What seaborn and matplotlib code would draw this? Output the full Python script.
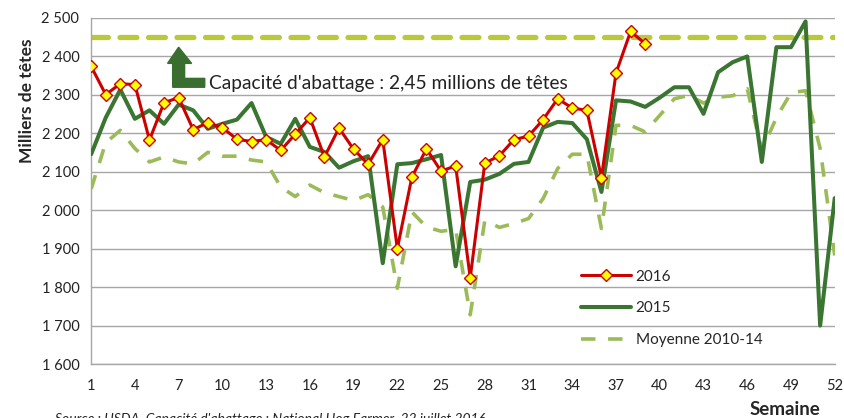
import numpy as np
import pandas as pd
import matplotlib.pyplot as plt
from matplotlib.patches import Polygon
import matplotlib.ticker as mticker
import seaborn as sns

# Données (milliers de têtes par semaine)
weeks = list(range(1, 53))

abattage_2016 = [
    2373, 2300, 2328, 2326, 2182, 2279, 2292, 2209, 2227, 2214,
    2184, 2178, 2183, 2155, 2197, 2240, 2138, 2213, 2158, 2119,
    2183, 1900, 2086, 2159, 2101, 2115, 1824, 2122, 2141, 2183,
    2192, 2235, 2289, 2265, 2259, 2084, 2356, 2464, 2432,
]

abattage_2015 = [
    2145, 2240, 2313, 2237, 2259, 2224, 2274, 2259, 2211, 2224,
    2235, 2278, 2190, 2172, 2237, 2164, 2151, 2110, 2127, 2140,
    1862, 2119, 2122, 2132, 2143, 1854, 2073, 2079, 2094, 2120,
    2125, 2214, 2229, 2226, 2184, 2047, 2285, 2282, 2268, 2292,
    2319, 2319, 2250, 2358, 2384, 2399, 2125, 2423, 2423, 2490,
    1700, 2031,
]

moyenne_2010_14 = [
    2055, 2175, 2207, 2160, 2125, 2138, 2125, 2120, 2150, 2140,
    2140, 2130, 2125, 2060, 2035, 2065, 2045, 2035, 2025, 2040,
    2008, 1797, 1995, 1956, 1945, 1950, 1728, 1973, 1955, 1965,
    1978, 2030, 2108, 2145, 2145, 1952, 2220, 2220, 2203, 2246,
    2289, 2298, 2278, 2293, 2297, 2315, 2155, 2240, 2305, 2310,
    2160, 1882,
]

capacite = 2450

x_ticks = list(range(1, 53, 3))
y_ticks = list(range(1600, 2501, 100))

df16 = pd.DataFrame({"semaine": weeks[:len(abattage_2016)], "valeur": abattage_2016})
df15 = pd.DataFrame({"semaine": weeks, "valeur": abattage_2015})
dfmoy = pd.DataFrame({"semaine": weeks, "valeur": moyenne_2010_14})

sns.set_style("white")
plt.rcParams["font.family"] = ["Lato", "DejaVu Sans"]

fig, ax = plt.subplots(figsize=(8.44, 4.18), dpi=100)
fig.subplots_adjust(left=0.108, right=0.989, top=0.958, bottom=0.129)

# Capacité d'abattage
ax.axhline(capacite, color="#bac83c", lw=3.8, dashes=(3.2, 2.2),
           dash_capstyle="round", zorder=2)

sns.lineplot(data=dfmoy, x="semaine", y="valeur", ax=ax, color="#9bbb59",
             lw=2.6, label="Moyenne 2010-14", zorder=3)
ax.lines[-1].set_dashes((4, 3.5))
sns.lineplot(data=df15, x="semaine", y="valeur", ax=ax, color="#3a7531",
             lw=2.9, label="2015", zorder=4)
sns.lineplot(data=df16, x="semaine", y="valeur", ax=ax, color="#cc0000",
             lw=2.2, marker="D", markersize=6.5, markerfacecolor="#ffff00",
             markeredgecolor="#cc0000", markeredgewidth=1.0,
             label="2016", zorder=5)

ax.set_xlim(1, 52)
ax.set_ylim(1600, 2500)
ax.set_xticks(x_ticks)
ax.set_xticks(weeks, minor=True)
ax.set_yticks(y_ticks)
ax.yaxis.set_major_formatter(
    mticker.FuncFormatter(lambda v, p: f"{int(v):,}".replace(",", " ")))
ax.grid(axis="y", color="#a6a6a6", lw=1.0)
ax.set_axisbelow(True)

for side in ["top", "right"]:
    ax.spines[side].set_visible(False)
for side in ["left", "bottom"]:
    ax.spines[side].set_color("#a6a6a6")
    ax.spines[side].set_linewidth(1.0)

ax.tick_params(axis="both", which="both", color="#a6a6a6", labelsize=10.5,
               labelcolor="#222222")
ax.tick_params(axis="y", length=5, width=1)
ax.tick_params(axis="x", which="major", length=4, width=1, pad=7)
ax.tick_params(axis="x", which="minor", length=4, width=1)

ax.set_ylabel("Milliers de têtes", fontsize=12.5, fontweight="bold")
ax.yaxis.set_label_coords(-0.076, 0.76)
ax.set_xlabel("")
fig.text(0.93, 0.0, "Semaine", fontsize=13.5, fontweight="bold",
         ha="center", va="bottom")

# Flèche et texte de la capacité
arrow = Polygon([(7.0, 2423), (7.89, 2381), (7.41, 2381), (7.41, 2342),
                 (8.79, 2342), (8.79, 2319), (6.59, 2319), (6.59, 2381),
                 (6.24, 2381)], closed=True, color="#3a6e2e", zorder=6)
ax.add_patch(arrow)
ax.text(9.1, 2330, "Capacité d'abattage : 2,45 millions de têtes",
        fontsize=13.8, color="#222222", va="center", ha="left", zorder=6)

# Légende
handles, labels = ax.get_legend_handles_labels()
order = [labels.index(l) for l in ["2016", "2015", "Moyenne 2010-14"]]
ax.legend([handles[i] for i in order], [labels[i] for i in order],
          loc="lower left", bbox_to_anchor=(0.64, 0.01), frameon=False,
          fontsize=11, handlelength=3.3, labelspacing=1.15, handletextpad=0.3)

fig.text(0.065, -0.012,
         "Source : USDA, Capacité d'abattage : National Hog Farmer, 22 juillet 2016",
         fontsize=10, style="italic", color="#222222", va="baseline")

fig.savefig("out.png", dpi=100)
